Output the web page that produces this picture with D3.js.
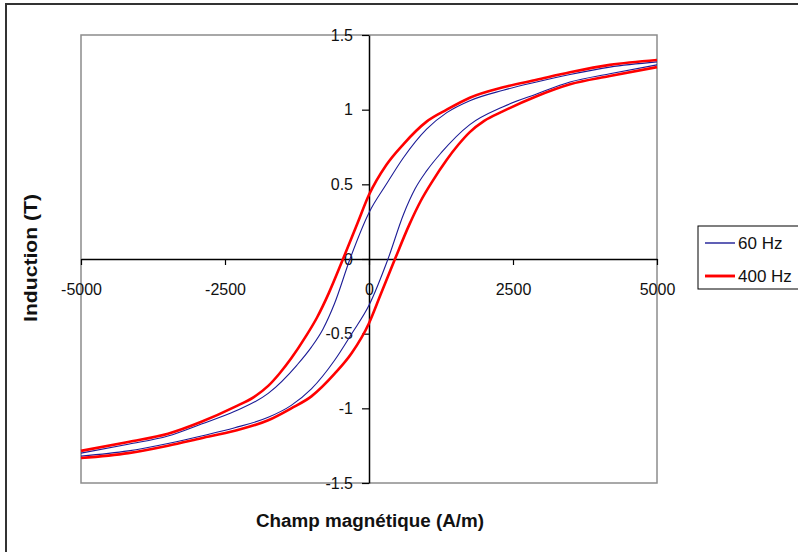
<!DOCTYPE html>
<html>
<head>
<meta charset="utf-8">
<script src="https://cdn.jsdelivr.net/npm/d3@7"></script>
<style>
  body { margin: 0; background: #fff; }
  text { font-family: "Liberation Sans", Arial, sans-serif; fill: #111; }
</style>
</head>
<body>
<div id="chart"></div>
<script>
// tick values
const xTicks = [-5000, -2500, 0, 2500, 5000];
const yTicks = [-1.5, -1, -0.5, 0, 0.5, 1, 1.5];

// 400 Hz loop, upper (descending H) and lower (ascending H) branches
const h400Up = [5000, 4180, 3490, 2910, 2330, 1750, 1350, 1000, 600, 300, 0, -200, -451, -700, -900, -1100, -1350, -1550, -1750, -2000, -2330, -2910, -3490, -4180, -5000];
const b400Up = [1.333, 1.30, 1.25, 1.20, 1.15, 1.08, 1.00, 0.92, 0.77, 0.63, 0.43, 0.24, 0, -0.23, -0.39, -0.52, -0.665, -0.765, -0.85, -0.925, -0.99, -1.09, -1.17, -1.225, -1.285];
const h400Down = [-5000, -4180, -3490, -2910, -2330, -1750, -1350, -1000, -600, -300, 0, 200, 451, 700, 900, 1100, 1350, 1550, 1750, 2000, 2330, 2910, 3490, 4180, 5000];
const b400Down = [-1.333, -1.30, -1.25, -1.20, -1.15, -1.08, -1.00, -0.92, -0.77, -0.63, -0.43, -0.24, 0, 0.23, 0.39, 0.52, 0.665, 0.765, 0.85, 0.925, 0.99, 1.09, 1.17, 1.225, 1.285];

// 60 Hz loop
const h60Up = [5000, 4180, 3490, 2910, 2330, 1750, 1350, 1000, 600, 300, 0, -330, -600, -800, -1000, -1250, -1750, -2330, -2910, -3490, -4180, -5000];
const b60Up = [1.32, 1.285, 1.235, 1.185, 1.13, 1.06, 0.98, 0.87, 0.68, 0.50, 0.31, 0, -0.30, -0.47, -0.59, -0.71, -0.90, -1.02, -1.105, -1.185, -1.24, -1.30];
const h60Down = [-5000, -4180, -3490, -2910, -2330, -1750, -1350, -1000, -600, -300, 0, 330, 600, 800, 1000, 1250, 1750, 2330, 2910, 3490, 4180, 5000];
const b60Down = [-1.32, -1.285, -1.235, -1.185, -1.13, -1.06, -0.98, -0.87, -0.68, -0.50, -0.31, 0, 0.30, 0.47, 0.59, 0.71, 0.90, 1.02, 1.105, 1.185, 1.24, 1.30];

const series = [
    { name: "60 Hz", color: "#1c1c96", width: 1.1, branches: [[h60Up, b60Up], [h60Down, b60Down]] },
    { name: "400 Hz", color: "#ff0000", width: 2.6, branches: [[h400Up, b400Up], [h400Down, b400Down]] }
];

const width = 798;
const height = 552;
const plotLeft = 81;
const plotRight = 657;
const plotTop = 35;
const plotBottom = 483;

const svg = d3.select("#chart")
    .append("svg")
    .attr("width", width)
    .attr("height", height);

// outer chart frame
svg.append("rect")
    .attr("x", 6).attr("y", 4)
    .attr("width", 820).attr("height", 600)
    .attr("fill", "#fff")
    .attr("stroke", "#333")
    .attr("stroke-width", 2);

// plot area
svg.append("rect")
    .attr("x", plotLeft).attr("y", plotTop)
    .attr("width", plotRight - plotLeft).attr("height", plotBottom - plotTop)
    .attr("fill", "#fff")
    .attr("stroke", "#8c8c8c")
    .attr("stroke-width", 1.5);

const x = d3.scaleLinear([-5000, 5000], [plotLeft, plotRight]);
const y = d3.scaleLinear([-1.5, 1.5], [plotBottom, plotTop]);

// x axis through B = 0
svg.append("g")
    .attr("transform", `translate(0,${y(0)})`)
    .call(d3.axisBottom(x).tickValues(xTicks).tickSize(6).tickSizeOuter(0).tickPadding(19))
    .call(g => g.select(".domain").attr("stroke", "#000").attr("stroke-width", 1.5))
    .call(g => g.selectAll(".tick line").attr("stroke", "#000").attr("stroke-width", 1.2))
    .call(g => g.selectAll(".tick text")
        .attr("font-size", 16)
        .attr("fill", "#111")
        .style("font-family", "'Liberation Sans', Arial, sans-serif")
        .text(d => d3.format("d")(d).replace("\u2212", "-")));

// y axis through H = 0
svg.append("g")
    .attr("transform", `translate(${x(0)},0)`)
    .call(d3.axisLeft(y).tickValues(yTicks).tickSize(7).tickSizeOuter(0).tickPadding(9))
    .call(g => g.select(".domain").attr("stroke", "#000").attr("stroke-width", 1.5))
    .call(g => g.selectAll(".tick line").attr("stroke", "#000").attr("stroke-width", 1.2))
    .call(g => g.selectAll(".tick text")
        .attr("font-size", 16)
        .attr("fill", "#111")
        .style("font-family", "'Liberation Sans', Arial, sans-serif")
        .text(d => String(d)));

const line = d3.line()
    .x(d => x(d[0]))
    .y(d => y(d[1]))
    .curve(d3.curveMonotoneX);

// draw 60 Hz first, 400 Hz on top
series.forEach(s => {
    s.branches.forEach(([hs, bs]) => {
        svg.append("path")
            .attr("d", line(d3.zip(hs, bs)))
            .attr("fill", "none")
            .attr("stroke", s.color)
            .attr("stroke-width", s.width);
    });
});

// axis titles
svg.append("text")
    .attr("transform", `translate(37,${258}) rotate(-90)`)
    .attr("text-anchor", "middle")
    .attr("font-size", 18)
    .attr("font-weight", "bold")
    .attr("textLength", 128)
    .attr("lengthAdjust", "spacingAndGlyphs")
    .text("Induction (T)");

svg.append("text")
    .attr("x", 370)
    .attr("y", 527)
    .attr("text-anchor", "middle")
    .attr("font-size", 18)
    .attr("font-weight", "bold")
    .attr("textLength", 228)
    .attr("lengthAdjust", "spacingAndGlyphs")
    .text("Champ magnétique (A/m)");

// legend
const legend = svg.append("g").attr("transform", "translate(698,226)");
legend.append("rect")
    .attr("width", 120).attr("height", 63)
    .attr("fill", "#fff")
    .attr("stroke", "#000")
    .attr("stroke-width", 1);

series.forEach((s, i) => {
    const ly = 17 + i * 33;
    legend.append("line")
        .attr("x1", 7).attr("x2", 37)
        .attr("y1", ly).attr("y2", ly)
        .attr("stroke", s.color)
        .attr("stroke-width", s.width + 0.3);
    legend.append("text")
        .attr("x", 40)
        .attr("y", ly + 6)
        .attr("font-size", 17)
        .text(s.name);
});
</script>
</body>
</html>
